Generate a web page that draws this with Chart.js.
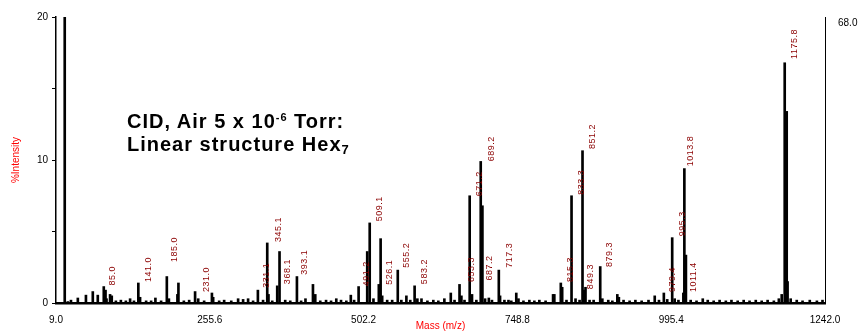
<!DOCTYPE html>
<html>
<head>
<meta charset="utf-8">
<script src="https://cdn.jsdelivr.net/npm/chart.js@4.4.1/dist/chart.umd.min.js"></script>
<style>
  html, body { margin: 0; padding: 0; background: #fff; }
  #wrap { position: relative; width: 862px; height: 332px; }
  #note {
    position: absolute; left: 127px; top: 111px;
    font: bold 20px "Liberation Sans", Arial, sans-serif;
    letter-spacing: 1px; line-height: 20px; color: #000; white-space: nowrap;
  }
  #note .sup { position: relative; top: -7px; font-size: 11px; }
  #note .sub { position: relative; top: 3px; font-size: 13px; }
</style>
</head>
<body>
<div id="wrap">
  <canvas id="spec" width="862" height="332"></canvas>
  <div id="note">CID, Air 5 x 10<span class="sup">-6</span> Torr:<br>Linear structure Hex<span class="sub">7</span></div>
</div>
<script>
// spectrum sticks: m/z and % intensity
const peakMz = [23.0, 28, 33, 44, 57, 68, 76, 85.6, 88.4, 90, 95.7, 98.4, 105, 113, 121, 127.8, 134,
  141, 143.8, 153.5, 161.5, 168.4, 177.5, 186.7, 190, 203.7, 205.3, 214, 222.5, 232, 237, 246.5,
  259, 261, 270.6, 278.6, 290, 301, 309, 317, 325, 332.7, 341, 347.7, 349.7, 355.7, 363.7, 367.4,
  376.5, 384.6, 395.3, 402, 409, 421, 424.7, 432.7, 442, 450, 458.4, 466, 474.5, 481.7, 487, 494.2,
  508, 512, 518, 526.6, 529.5, 532, 540, 548, 557, 562.7, 570.8, 577, 584, 588.4, 595, 604.5, 614,
  622, 631.7, 642, 648, 656, 659, 664, 672.3, 676, 683, 690, 692.7, 697, 703, 708, 719, 721, 728,
  734.5, 739, 747, 750.5, 758.5, 768, 776, 784, 794, 806, 808, 818.4, 820.6, 827.5, 835.6, 842,
  848.5, 853.2, 855.6, 858, 864.5, 871, 881.6, 885, 894.5, 901, 909, 911.5, 919, 928.7, 938, 948,
  959, 969, 975.8, 983.6, 989, 997, 1001, 1007, 1014.9, 1016.5, 1019, 1026.6, 1036, 1046, 1054,
  1063.5, 1073, 1083, 1092, 1102, 1111.6, 1121, 1131, 1140.5, 1150, 1160, 1168, 1172.6, 1177.4,
  1180.6, 1182, 1187, 1196.7, 1206, 1217.6, 1229, 1238];
const peakInt = [20, 0.1, 0.2, 0.35, 0.55, 0.8, 0.55, 1.15, 0.9, 0.3, 0.6, 0.5, 0.15, 0.2, 0.15, 0.3, 0.15,
  1.4, 0.4, 0.15, 0.15, 0.35, 0.15, 1.85, 0.3, 0.6, 1.4, 0.15, 0.2, 0.8, 0.3, 0.15,
  0.7, 0.4, 0.15, 0.2, 0.15, 0.3, 0.25, 0.3, 0.15, 0.9, 0.2, 4.2, 0.6, 0.15, 1.2, 3.6,
  0.2, 0.15, 1.85, 0.15, 0.3, 1.3, 0.6, 0.15, 0.2, 0.15, 0.3, 0.2, 0.15, 0.55, 0.2, 1.15,
  3.6, 5.6, 0.3, 1.3, 4.5, 0.5, 0.2, 0.2, 2.3, 0.2, 0.5, 0.2, 1.2, 0.3, 0.3, 0.15, 0.2,
  0.15, 0.3, 0.7, 0.2, 1.3, 0.5, 0.2, 7.5, 0.6, 0.2, 9.9, 6.8, 0.3, 0.35, 0.2, 2.3, 0.5, 0.2,
  0.2, 0.15, 0.7, 0.3, 0.15, 0.2, 0.15, 0.2, 0.15, 0.6, 0.6, 1.4, 1.1, 0.2, 7.5, 0.3,
  0.2, 10.65, 0.9, 1.1, 0.2, 0.2, 2.55, 0.3, 0.2, 0.15, 0.6, 0.4, 0.2, 0.15, 0.2, 0.15,
  0.2, 0.5, 0.2, 0.7, 0.25, 4.57, 0.3, 0.2, 0.7, 9.4, 3.35, 0.2, 0.15, 0.3, 0.2,
  0.15, 0.2, 0.15, 0.2, 0.15, 0.2, 0.15, 0.2, 0.15, 0.2, 0.15, 0.3, 0.6, 16.8,
  13.4, 1.5, 0.3, 0.2, 0.15, 0.2, 0.15, 0.2];

// peak annotations: text, m/z and intensity where each one sits
const labelText = ["85.0", "141.0", "185.0", "231.0", "331.1", "345.1", "368.1", "393.1", "491.2",
  "509.1", "526.1", "555.2", "583.2", "653.3", "671.2", "689.2", "687.2", "717.3", "815.3", "833.3",
  "851.2", "849.3", "879.3", "979.4", "995.3", "1013.8", "1011.4", "1175.8"];
const labelMz = [83, 141, 182.3, 233.7, 331, 349, 364.8, 391.5, 490.5,
  511.4, 527.4, 554.7, 583.6, 659, 671.9, 692, 687.9, 720, 818, 835.6,
  853.2, 850, 880.5, 981, 997.7, 1010.5, 1014.9, 1177.4];
const labelAt = [1.15, 1.4, 2.8, 0.7, 1.0, 4.2, 1.25, 1.9, 1.1,
  5.65, 1.2, 2.4, 1.25, 1.4, 7.4, 9.85, 1.5, 2.4, 1.4, 7.5,
  10.7, 0.9, 2.45, 0.7, 4.6, 9.5, 0.7, 17.0];

const xTickValues = [9.0, 255.6, 502.2, 748.8, 995.4, 1242.0];
const yTickValues = [0, 5, 10, 15, 20];
const yTickLabels = ["0", "", "10", "", "20"];
const rightTopLabel = "68.0";

Chart.defaults.font.family = '"Liberation Sans", Arial, sans-serif';

const peakLabels = {
  id: "peakLabels",
  afterDatasetsDraw(chart) {
    const { ctx, scales: { x, y } } = chart;
    ctx.save();
    ctx.fillStyle = "#8b0000";
    ctx.font = '9px "Liberation Sans", Arial, sans-serif';
    ctx.letterSpacing = "0.5px";
    ctx.textAlign = "left";
    ctx.textBaseline = "middle";
    labelText.forEach((t, i) => {
      const px = x.getPixelForValue(labelMz[i]);
      const py = y.getPixelForValue(labelAt[i]);
      ctx.save();
      ctx.translate(px + 10, py - 1);
      ctx.rotate(-Math.PI / 2);
      ctx.fillText(t, 0, 0);
      ctx.restore();
    });
    ctx.restore();
  }
};

new Chart(document.getElementById("spec"), {
  type: "bar",
  data: {
    datasets: [{
      data: peakMz.map((m, i) => ({ x: m, y: peakInt[i] })),
      backgroundColor: "#000",
      borderWidth: 0,
      barThickness: 2
    }]
  },
  options: {
    responsive: false,
    animation: false,
    layout: { padding: { top: 17, left: 0, right: 0, bottom: 0 } },
    plugins: { legend: { display: false }, tooltip: { enabled: false } },
    scales: {
      x: {
        type: "linear", min: 9, max: 1242, offset: false,
        grid: { display: false, offset: false },
        border: { color: "#000", width: 2.5 },
        afterBuildTicks(s) { s.ticks = xTickValues.map(v => ({ value: v })); },
        ticks: { callback: v => v.toFixed(1), color: "#000", font: { size: 10 }, padding: 3, maxRotation: 0, autoSkip: false },
        title: { display: true, text: "Mass (m/z)", color: "#f00", font: { size: 10 }, padding: 0 },
        afterFit(s) { s.height = 29; }
      },
      y: {
        position: "left", min: 0, max: 20,
        afterBuildTicks(s) { s.ticks = yTickValues.map(v => ({ value: v })); },
        ticks: { callback: (v, i) => yTickLabels[i], color: "#000", font: { size: 10 }, padding: 4 },
        grid: { drawOnChartArea: false, tickLength: 4, color: "#000" },
        border: { color: "#000", width: 1.5 },
        title: { display: true, text: "%Intensity", color: "#f00", font: { size: 10 }, padding: { top: 10, bottom: 0 } },
        afterFit(s) { s.width = 56; }
      },
      y2: {
        position: "right", min: 0, max: 20,
        afterBuildTicks(s) { s.ticks = [{ value: 20 }]; },
        ticks: { callback: () => rightTopLabel, color: "#000", font: { size: 10 }, padding: 5, labelOffset: 6 },
        grid: { display: false },
        border: { display: true, color: "#000", width: 1 },
        afterFit(s) { s.width = 37; }
      }
    }
  },
  plugins: [peakLabels]
});
</script>
</body>
</html>
